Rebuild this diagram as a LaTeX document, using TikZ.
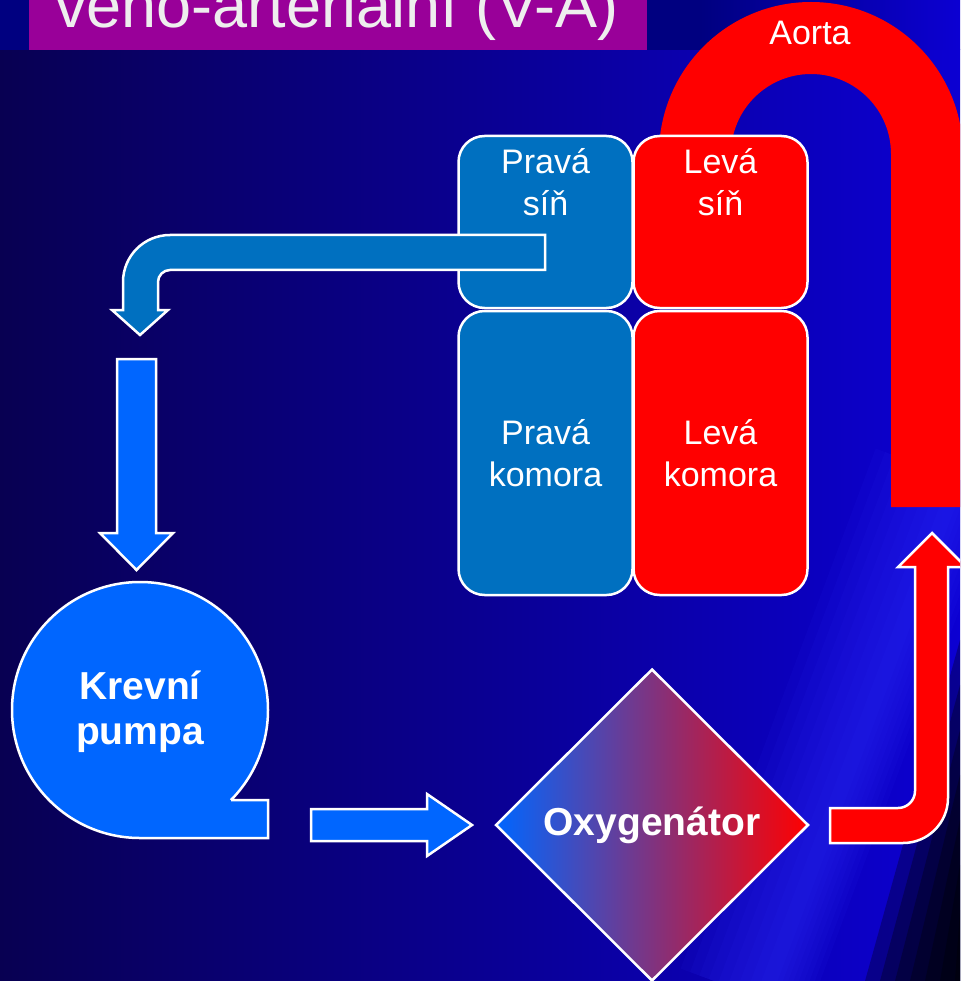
\documentclass[tikz,border=0pt]{standalone}
\usepackage{fontspec}
\setmainfont{Liberation Sans}
\usetikzlibrary{shapes.geometric, positioning}

\definecolor{navyband}{RGB}{0,0,128}
\definecolor{bgdark}{RGB}{8,0,82}
\definecolor{bgmid}{RGB}{10,0,140}
\definecolor{bgblue}{RGB}{12,0,210}
\definecolor{streak}{RGB}{50,50,255}
\definecolor{titlepurple}{RGB}{153,0,153}
\definecolor{txtgray}{RGB}{238,238,238}
\definecolor{rvblue}{RGB}{0,112,192}
\definecolor{pumpblue}{RGB}{0,102,255}
\definecolor{artred}{RGB}{255,0,0}

\begin{document}
\begin{tikzpicture}[
    x=1pt, y=-1pt,
    chamber/.style={rectangle, draw=white, line width=2.5pt, rounded corners=26pt, minimum width=174pt, inner sep=0pt},
    lbl/.style={text=white, align=center, font=\fontsize{34}{42}\selectfont},
    boldlbl/.style={text=white, align=center, font=\bfseries\fontsize{39}{45}\selectfont},
    flow/.style={draw=white, line width=2.5pt, line join=miter}
]
\useasboundingbox (0,0) rectangle (960,981);
\clip (0,0) rectangle (960,981);

% Background
\shade[left color=bgdark, middle color=bgmid, right color=bgblue] (0,50) rectangle (960,981);
\foreach \w in {90,80,...,10}
  \fill[streak, opacity=0.07] ({765-0.937*\w},{1000-0.349*\w}) -- ({960-0.937*\w},{480-0.349*\w})
    -- ({960+0.937*\w*0.5},{480+0.349*\w*0.5}) -- ({765+0.937*\w*0.5},{1000+0.349*\w*0.5}) -- cycle;
\foreach \s in {0,15,...,90}
  \fill[black, opacity=0.3] ({865+\s},981) -- (960,{640+3*\s}) -- (960,981) -- cycle;
\fill[navyband] (0,0) rectangle (700,50);
\shade[left color=navyband, right color=bgblue] (700,0) rectangle (960,50);

% Title
\fill[titlepurple] (29,-5) rectangle (647,50);
\node[anchor=base west, inner sep=0pt, text=txtgray, font=\fontsize{63}{70}\selectfont] (title) at (55,28) {veno-arteriální (V-A)};

% Aorta
\fill[artred] (659,160) -- (659,154) arc[start angle=180, end angle=360, radius=152]
  -- (963,507) -- (891,507) -- (891,154) arc[start angle=360, end angle=180, radius=80]
  -- (731,160) -- cycle;
\node[lbl, anchor=base] (aorta) at (810,45) {Aorta};

% Heart chambers
\node[chamber, fill=rvblue, minimum height=172pt] (ps) at (545.5,222) {};
\node[chamber, fill=artred, minimum height=172pt] (ls) at (720.5,222) {};
\node[chamber, fill=rvblue, minimum height=284pt] (pk) at (545.5,453) {};
\node[chamber, fill=artred, minimum height=284pt] (lk) at (720.5,453) {};

\node[lbl] at ([yshift=-47pt]ps.north) {Pravá\\síň};
\node[lbl] at ([yshift=-47pt]ls.north) {Levá\\síň};
\node[lbl] at (pk) {Pravá\\komora};
\node[lbl] at (lk) {Levá\\komora};

% Venous return from right atrium
\filldraw[flow, fill=rvblue] (545,235) -- (170,235) .. controls (144,235) and (123,256) .. (123,282)
  -- (123,310) -- (112,310) -- (140,335) -- (168,310) -- (158,310) -- (158,282)
  .. controls (158,275.4) and (163.4,270) .. (170,270) -- (545,270) -- cycle;
\filldraw[flow, fill=pumpblue] (117,359) -- (156,359) -- (156,533) -- (173,533) -- (136.5,570)
  -- (100,533) -- (117,533) -- cycle;

% Blood pump
\filldraw[flow, fill=pumpblue] (231,800) -- (268,800) -- (268,838) -- (140,838)
  arc[start angle=90, end angle=404.7, radius=128] -- cycle;
\node[boldlbl] (pump) at (140,712) {Krevní\\pumpa};

\filldraw[flow, fill=pumpblue] (311,809) -- (427,809) -- (427,794) -- (472,825) -- (427,856)
  -- (427,841) -- (311,841) -- cycle;

% Oxygenator
\node[diamond, draw=white, line width=2.5pt, left color=pumpblue, right color=artred,
  minimum width=313pt, minimum height=312pt, inner sep=0pt, text=white,
  font=\bfseries\fontsize{39}{45}\selectfont] (oxy) at (652,825) {Oxygenátor};

% Arterial return
\filldraw[flow, fill=artred] (830,808) -- (898,808) .. controls (907.4,808) and (915,800.4) .. (915,791)
  -- (915,567) -- (898,567) -- (932,533) -- (966,567) -- (948,567) -- (948,798)
  .. controls (948,822.9) and (927.9,843) .. (903,843) -- (830,843) -- cycle;

\end{tikzpicture}
\end{document}
